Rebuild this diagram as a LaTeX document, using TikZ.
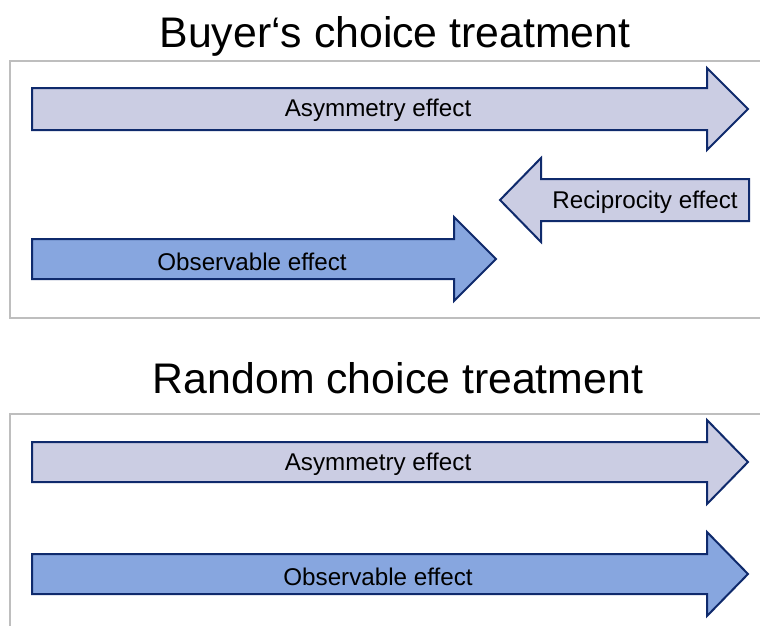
\documentclass[tikz,border=0pt]{standalone}
\usepackage{fontspec}
\setmainfont{Liberation Sans}
\usepackage{tikz}
\usepackage{xcolor}
\usetikzlibrary{positioning}

\definecolor{edgeblue}{HTML}{0F2A6C}
\definecolor{lightfill}{HTML}{CBCDE3}
\definecolor{bluefill}{HTML}{87A6DF}
\definecolor{panelgray}{HTML}{BEBEBE}

\begin{document}
\begin{tikzpicture}[x=1pt, y=-1pt,
  panel/.style = {draw=panelgray, line width=2pt},
  effarrow/.style = {draw=edgeblue, line width=2pt, line join=miter},
  light/.style = {effarrow, fill=lightfill},
  blue/.style = {effarrow, fill=bluefill},
  lbl/.style = {font=\fontsize{24.2}{28}\selectfont, inner sep=0pt},
  ttl/.style = {font=\fontsize{42.8}{50}\selectfont, inner sep=0pt}]
\useasboundingbox (0,0) rectangle (760,625);
\clip (0,0) rectangle (760,625);
% Buyer's choice
\node[ttl] (ttlbuyer) at (395,36) {Buyer‘s choice treatment};
\draw[panel] (762,61) -- (10,61) -- (10,318) -- (762,318);
\draw[light] (32,88) -- (707,88) -- (707,68) -- (748,109) -- (707,150) -- (707,130) -- (32,130) -- cycle;
\node[lbl] (asymbuyer) at (378,110) {Asymmetry effect};
\draw[light] (749,179) -- (541,179) -- (541,158) -- (500,200) -- (541,242) -- (541,221) -- (749,221) -- cycle;
\node[lbl] (recbuyer) at (645,202) {Reciprocity effect};
\draw[blue] (32,239) -- (454,239) -- (454,217) -- (496,259) -- (454,301) -- (454,279) -- (32,279) -- cycle;
\node[lbl] (obsbuyer) at (252,262) {Observable effect};
% Random choice
\node[ttl] (ttlrandom) at (398,378) {Random choice treatment};
\draw[panel] (762,414) -- (10,414) -- (10,630);
\draw[light] (32,442) -- (707,442) -- (707,420) -- (748,462) -- (707,504) -- (707,482) -- (32,482) -- cycle;
\node[lbl] (asymrandom) at (378,464) {Asymmetry effect};
\draw[blue] (32,554) -- (707,554) -- (707,532) -- (748,574) -- (707,616) -- (707,594) -- (32,594) -- cycle;
\node[lbl] (obsrandom) at (378,577) {Observable effect};
\end{tikzpicture}
\end{document}
